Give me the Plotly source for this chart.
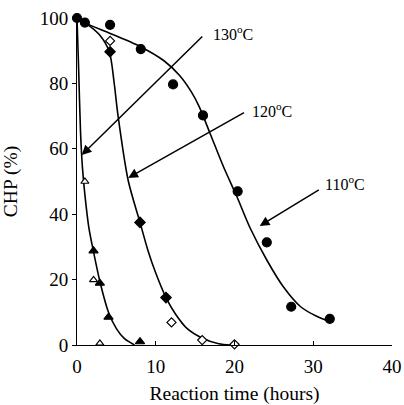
import plotly.graph_objects as go

# Measured data points
t110 = [0, 1, 4.2, 8.1, 12.2, 16.0, 20.4, 24.1, 27.2, 32.1]
c110 = [100, 98.6, 97.9, 90.5, 79.7, 70.2, 47, 31.4, 11.7, 8.0]

t120_f = [4.2, 8.0, 11.3]
c120_f = [89.7, 37.5, 14.5]
t120_o = [4.2, 12.0, 15.9, 20.0]
c120_o = [93, 6.9, 1.5, 0.2]

t130_f = [2.1, 2.9, 4.0, 8.0]
c130_f = [28.8, 18.9, 8.5, 1.0]
t130_o = [1.0, 2.1, 2.9]
c130_o = [50, 19.9, 0.5]

# Fitted curves
ct110 = [0, 1, 4, 8, 11, 13, 14.5, 15.5, 16.9, 18.6, 20.3, 22, 24.1, 26.2, 28.4, 30.5, 32.2]
cc110 = [100, 98.5, 95.5, 91.3, 87, 82.5, 77.5, 73, 64.7, 54.5, 45.4, 35.7, 26, 17.8, 11.7, 8.7, 7.1]
ct120 = [0, 1, 2.8, 4.1, 4.7, 5.2, 6.5, 8, 9, 10, 11.3, 12.5, 14, 16, 18, 19.5]
cc120 = [100, 98.6, 95, 89.7, 80.5, 70.3, 50.3, 37.5, 29, 22, 14.5, 9.5, 5, 2, 0.4, 0]
ct130 = [0, 0.2, 0.45, 0.7, 1, 1.5, 2.1, 3, 4, 5, 6, 7.3]
cc130 = [100, 85, 65, 54, 46, 36, 28.5, 18.5, 10, 5, 2, 0]

labels = ["130<sup>o</sup>C", "120<sup>o</sup>C", "110<sup>o</sup>C"]
label_x = [17.0, 22.0, 31.2]
label_y = [95.4, 71.9, 49.5]
arrow_tail_x = [16.1, 21.4, 30.9]
arrow_tail_y = [94.8, 71.3, 47.7]
arrow_head_x = [0.6, 6.5, 23.2]
arrow_head_y = [58.1, 51.1, 36.4]

x_ticks = [0, 10, 20, 30, 40]
y_ticks = [0, 20, 40, 60, 80, 100]

FONT = "Liberation Serif"
fig = go.Figure()

for cx, cy in [(ct110, cc110), (ct120, cc120), (ct130, cc130)]:
    fig.add_trace(go.Scatter(x=cx, y=cy, mode="lines",
                             line=dict(color="black", width=1.6, shape="spline", smoothing=0.8),
                             cliponaxis=False, showlegend=False, hoverinfo="skip"))

def mk(x, y, sym, size, open_=False):
    fig.add_trace(go.Scatter(
        x=x, y=y, mode="markers", cliponaxis=False, showlegend=False,
        marker=dict(symbol=sym, size=size, color="white" if open_ else "black",
                    line=dict(color="black", width=1.2))))

mk(t110, c110, "circle", 9)
mk(t120_f, c120_f, "diamond", 8)
mk(t120_o, c120_o, "diamond", 7, True)
mk(t130_f, c130_f, "triangle-up", 8)
mk(t130_o, c130_o, "triangle-up", 7, True)

for i in range(3):
    fig.add_annotation(x=arrow_head_x[i], y=arrow_head_y[i], ax=arrow_tail_x[i], ay=arrow_tail_y[i],
                       xref="x", yref="y", axref="x", ayref="y", text="", showarrow=True,
                       arrowhead=2, arrowsize=1.3, arrowwidth=1.5, arrowcolor="black")
    fig.add_annotation(x=label_x[i], y=label_y[i], xref="x", yref="y", text=labels[i], showarrow=False,
                       xanchor="left", yanchor="middle", font=dict(family=FONT, size=16, color="black"))

fig.update_xaxes(range=[0, 40], tickvals=x_ticks, ticks="inside", ticklen=4, tickcolor="black",
                 showline=True, linecolor="black", linewidth=1, showgrid=False, zeroline=False,
                 automargin=False, ticklabelstandoff=4, ticklabeloverflow="allow",
                 tickfont=dict(family=FONT, size=19, color="black"),
                 title=dict(text="Reaction time (hours)", font=dict(family=FONT, size=19.5, color="black"), standoff=12))
fig.update_yaxes(range=[0, 100], tickvals=y_ticks, ticks="outside", ticklen=4, tickcolor="black",
                 showline=True, linecolor="black", linewidth=1, showgrid=False, zeroline=False,
                 automargin=False, ticklabeloverflow="allow",
                 tickfont=dict(family=FONT, size=19, color="black"),
                 title=dict(text="CHP (%)", font=dict(family=FONT, size=19.5, color="black"), standoff=17))

fig.update_layout(width=404, height=405, margin=dict(l=77, r=12, t=18, b=60, autoexpand=False),
                  font=dict(family=FONT, color="black"),
                  plot_bgcolor="white", paper_bgcolor="white")

fig.write_html("out.html", config={"displayModeBar": False},
               post_script="document.body.style.margin='0';document.body.style.overflow='hidden';")
